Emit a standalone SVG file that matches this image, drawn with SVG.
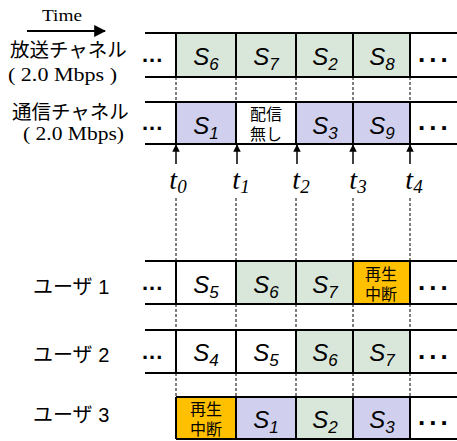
<svg xmlns="http://www.w3.org/2000/svg" width="457" height="441" viewBox="0 0 457 441">
<defs>
<style>
.ln{stroke:#000;stroke-width:2;fill:none}
.ds{stroke:#000;stroke-width:1;stroke-dasharray:3,2;fill:none}
.g{fill:#d9e6da}
.p{fill:#d0d0ee}
.o{fill:#ffc000}
.s{font-family:"Liberation Sans",Arial,sans-serif;font-style:italic;font-size:24px;text-anchor:middle}
.sub{font-size:17px}
.cell{font-family:"Liberation Sans","Noto Sans CJK JP",sans-serif;font-size:16px;text-anchor:middle}
.lbl{font-family:"Liberation Sans","Noto Sans CJK JP",sans-serif;font-size:19.5px}
.ul{font-family:"Liberation Sans","Noto Sans CJK JP",sans-serif;font-size:20px}
.ser{font-family:"Liberation Serif","Times New Roman",serif}
.t{font-family:"Liberation Serif","Times New Roman",serif;font-style:italic;font-size:28px;text-anchor:middle}
.tsub{font-size:19px}
.dl{font-family:"Liberation Sans",Arial,sans-serif;font-weight:bold;font-size:22px;letter-spacing:1px}
.dr{font-family:"Liberation Sans",Arial,sans-serif;font-weight:bold;font-size:26px;letter-spacing:4px}
</style>
<marker id="ah" viewBox="0 0 10 10" refX="9" refY="5" markerWidth="6" markerHeight="6" orient="auto">
<path d="M0,0 L10,5 L0,10 z" fill="#000"/>
</marker>
<marker id="ah2" viewBox="0 0 10 10" refX="9" refY="5" markerWidth="5" markerHeight="5" orient="auto">
<path d="M0,0 L10,5 L0,10 z" fill="#000"/>
</marker>
</defs>
<rect width="457" height="441" fill="#fff"/>

<g id="time">
<text class="ser" x="42" y="21" font-size="16" textLength="40" lengthAdjust="spacingAndGlyphs">Time</text>
<line x1="27" y1="31" x2="105" y2="31" stroke="#000" stroke-width="2" marker-end="url(#ah)"/>
</g>

<g id="labels">
<text class="lbl" x="10" y="57">放送チャネル</text>
<text class="ser" x="8" y="81" font-size="18" textLength="109" lengthAdjust="spacingAndGlyphs">( 2.0 Mbps )</text>
<text class="lbl" x="12" y="119">通信チャネル</text>
<text class="ser" x="23" y="140" font-size="18" textLength="101" lengthAdjust="spacingAndGlyphs">( 2.0 Mbps)</text>
<text class="ul" x="33" y="294">ユーザ 1</text>
<text class="ul" x="33" y="362">ユーザ 2</text>
<text class="ul" x="33" y="422">ユーザ 3</text>
</g>

<g id="connectors">
<g class="ds">
<path d="M176,77V102M236,77V102M296,77V102M353,77V102M410,77V102"/>
<path d="M176,198V261M236,198V261M296,198V261M353,198V261M410,198V261"/>
<path d="M176,304V330M236,304V330M296,304V330M353,304V330M410,304V330"/>
<path d="M176,373V397M236,373V397M296,373V397M353,373V397M410,373V397"/>
</g>
<g stroke="#000" stroke-width="1.5">
<line x1="176" y1="164" x2="176" y2="145" marker-end="url(#ah2)"/>
<line x1="237" y1="164" x2="237" y2="145" marker-end="url(#ah2)"/>
<line x1="297" y1="164" x2="297" y2="145" marker-end="url(#ah2)"/>
<line x1="353" y1="164" x2="353" y2="145" marker-end="url(#ah2)"/>
<line x1="410" y1="164" x2="410" y2="145" marker-end="url(#ah2)"/>
</g>
</g>

<g id="tlabels">
<text class="t" x="178" y="189">t<tspan class="tsub" dy="4">0</tspan></text>
<text class="t" x="241" y="189">t<tspan class="tsub" dy="4">1</tspan></text>
<text class="t" x="301" y="189">t<tspan class="tsub" dy="4">2</tspan></text>
<text class="t" x="358" y="189">t<tspan class="tsub" dy="4">3</tspan></text>
<text class="t" x="414" y="189">t<tspan class="tsub" dy="4">4</tspan></text>
</g>

<g id="broadcast">
<rect class="g" x="176" y="33" width="233" height="44"/>
<path class="ln" d="M145,33H457M145,77H457M176,33V77M236,33V77M296,33V77M353,33V77M410,33V77"/>
<text class="dl" x="142" y="62">...</text>
<text class="dr" x="418" y="62">...</text>
<text class="s" x="206" y="65">S<tspan class="sub" dy="5">6</tspan></text>
<text class="s" x="266" y="65">S<tspan class="sub" dy="5">7</tspan></text>
<text class="s" x="325" y="65">S<tspan class="sub" dy="5">2</tspan></text>
<text class="s" x="382" y="65">S<tspan class="sub" dy="5">8</tspan></text>
</g>

<g id="comm">
<rect class="p" x="176" y="102" width="60" height="42"/>
<rect class="p" x="296" y="102" width="114" height="42"/>
<path class="ln" d="M145,102H457M145,144H457M176,102V144M236,102V144M296,102V144M353,102V144M410,102V144"/>
<text class="dl" x="142" y="130">...</text>
<text class="dr" x="418" y="130">...</text>
<text class="s" x="206" y="134">S<tspan class="sub" dy="5">1</tspan></text>
<text class="cell" x="266" y="120">配信</text>
<text class="cell" x="266" y="140">無し</text>
<text class="s" x="325" y="134">S<tspan class="sub" dy="5">3</tspan></text>
<text class="s" x="382" y="134">S<tspan class="sub" dy="5">9</tspan></text>
</g>

<g id="user1">
<rect class="g" x="236" y="261" width="117" height="43"/>
<rect class="o" x="353" y="261" width="57" height="43"/>
<path class="ln" d="M145,261H457M145,304H457M176,261V304M236,261V304M296,261V304M353,261V304M410,261V304"/>
<text class="dl" x="142" y="290">...</text>
<text class="dr" x="418" y="290">...</text>
<text class="s" x="206" y="293">S<tspan class="sub" dy="5">5</tspan></text>
<text class="s" x="266" y="293">S<tspan class="sub" dy="5">6</tspan></text>
<text class="s" x="325" y="293">S<tspan class="sub" dy="5">7</tspan></text>
<text class="cell" x="381" y="280">再生</text>
<text class="cell" x="381" y="300">中断</text>
</g>

<g id="user2">
<rect class="g" x="296" y="330" width="114" height="43"/>
<path class="ln" d="M145,330H457M145,373H457M176,330V373M236,330V373M296,330V373M353,330V373M410,330V373"/>
<text class="dl" x="142" y="359">...</text>
<text class="dr" x="418" y="359">...</text>
<text class="s" x="206" y="361">S<tspan class="sub" dy="5">4</tspan></text>
<text class="s" x="266" y="361">S<tspan class="sub" dy="5">5</tspan></text>
<text class="s" x="325" y="361">S<tspan class="sub" dy="5">6</tspan></text>
<text class="s" x="382" y="361">S<tspan class="sub" dy="5">7</tspan></text>
</g>

<g id="user3">
<rect class="o" x="176" y="397" width="60" height="42"/>
<rect class="p" x="236" y="397" width="60" height="42"/>
<rect class="g" x="296" y="397" width="57" height="42"/>
<rect class="p" x="353" y="397" width="57" height="42"/>
<path class="ln" d="M176,397H457M176,439H457M176,397V439M236,397V439M296,397V439M353,397V439M410,397V439"/>
<text class="dr" x="418" y="425">...</text>
<text class="cell" x="206" y="415">再生</text>
<text class="cell" x="206" y="435">中断</text>
<text class="s" x="266" y="428">S<tspan class="sub" dy="5">1</tspan></text>
<text class="s" x="325" y="428">S<tspan class="sub" dy="5">2</tspan></text>
<text class="s" x="382" y="428">S<tspan class="sub" dy="5">3</tspan></text>
</g>
</svg>
